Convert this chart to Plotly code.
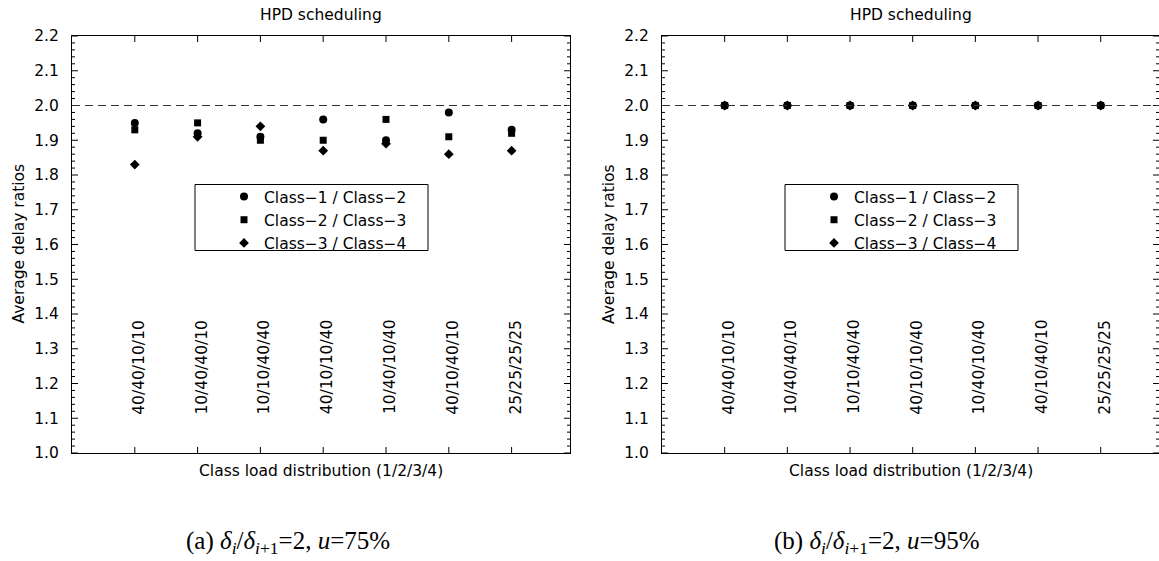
import plotly.graph_objects as go

# ---------------- data ----------------
categories = ["40/40/10/10", "10/40/40/10", "10/10/40/40", "40/10/10/40",
              "10/40/10/40", "40/10/40/10", "25/25/25/25"]
cat_pos = [1, 2, 3, 4, 5, 6, 7]

series_names = ["Class\u22121 / Class\u22122", "Class\u22122 / Class\u22123", "Class\u22123 / Class\u22124"]

# (a) u = 75%
a_c12 = [1.95, 1.92, 1.91, 1.96, 1.90, 1.98, 1.93]
a_c23 = [1.93, 1.95, 1.90, 1.90, 1.96, 1.91, 1.92]
a_c34 = [1.83, 1.91, 1.94, 1.87, 1.89, 1.86, 1.87]

# (b) u = 95%
b_c12 = [2.00, 2.00, 2.00, 2.00, 2.00, 2.00, 2.00]
b_c23 = [2.00, 2.00, 2.00, 2.00, 2.00, 2.00, 2.00]
b_c34 = [2.00, 2.00, 2.00, 2.00, 2.00, 2.00, 2.00]

target_ratio = 2.0
y_ticks = [1.0, 1.1, 1.2, 1.3, 1.4, 1.5, 1.6, 1.7, 1.8, 1.9, 2.0, 2.1, 2.2]
minor_per_major = 5
label_base = 1.105

titles = ["HPD scheduling", "HPD scheduling"]
captions = ["(a) <i>\u03b4<sub>i</sub></i>/<i>\u03b4<sub>i</sub></i><sub>+1</sub>=2, <i>u</i>=75%",
            "(b) <i>\u03b4<sub>i</sub></i>/<i>\u03b4<sub>i</sub></i><sub>+1</sub>=2, <i>u</i>=95%"]
x_title = "Class load distribution (1/2/3/4)"
y_title = "Average delay ratios"

# ---------------- layout constants ----------------
W, H = 1159, 561
TOP, BOT = 36, 453          # plot area in pixels
FONT = "DejaVu Sans"
FS = 15.5
dom1 = [72 / W, 570 / W]
dom2 = [662 / W, 1.0]
PLOT_W = 498.0
PLOT_H = BOT - TOP
MAJ, MIN = 6, 3             # tick lengths (px)
symbols = ["circle", "square", "diamond"]
sizes = [8, 7, 7.5]


def py(pix):
    """pixel row -> paper y (paper spans plot area vertically)"""
    return (BOT - pix) / (BOT - TOP)


fig = go.Figure()

panels = [
    (dict(xaxis="x", yaxis="y", legend="legend"), [a_c12, a_c23, a_c34]),
    (dict(xaxis="x2", yaxis="y2", legend="legend2"), [b_c12, b_c23, b_c34]),
]
for p, (refs, data) in enumerate(panels):
    for k, (name, vals) in enumerate(zip(series_names, data)):
        fig.add_trace(go.Scatter(
            x=cat_pos, y=vals, mode="markers", name=name,
            marker=dict(symbol=symbols[k], size=sizes[k], color="black",
                        line=dict(width=0)),
            legendgroup=f"g{p}{k}",
            xaxis=refs["xaxis"], yaxis=refs["yaxis"], legend=refs["legend"],
            showlegend=True,
        ))

axis_common_x = dict(range=[0, 7.93], tickvals=cat_pos, showticklabels=False,
                     ticks="", showline=True, linecolor="black", linewidth=1,
                     mirror=True, showgrid=False, zeroline=False)
axis_common_y = dict(range=[y_ticks[0], y_ticks[-1]], tickvals=y_ticks,
                     ticktext=[f"{v:.1f}" for v in y_ticks], ticks="",
                     showline=True, linecolor="black", linewidth=1, mirror=True,
                     showgrid=False, zeroline=False, ticklabelstandoff=9,
                     tickfont=dict(family=FONT, size=FS, color="black"))

tick_line = dict(color="black", width=1)
annotations = []
shapes = []
for p, (xa, ya, dom) in enumerate([("x", "y", dom1), ("x2", "y2", dom2)]):
    cx = (dom[0] + (570 / W if p == 0 else 1160 / W)) / 2
    # ---- tick marks (inside, on all four sides) ----
    for xi in cat_pos:
        shapes.append(dict(type="line", xref=xa, yref=f"{ya} domain", x0=xi, x1=xi,
                           y0=0, y1=MAJ / PLOT_H, line=tick_line, layer="above"))
        shapes.append(dict(type="line", xref=xa, yref=f"{ya} domain", x0=xi, x1=xi,
                           y0=1, y1=1 - MAJ / PLOT_H, line=tick_line, layer="above"))
    step = (y_ticks[1] - y_ticks[0]) / minor_per_major
    for i, yv in enumerate(y_ticks):
        for s in range(minor_per_major if i < len(y_ticks) - 1 else 1):
            v = yv + s * step
            ln = MAJ if s == 0 else MIN
            shapes.append(dict(type="line", xref=f"{xa} domain", yref=ya, x0=0,
                               x1=ln / PLOT_W, y0=v, y1=v, line=tick_line, layer="above"))
            shapes.append(dict(type="line", xref=f"{xa} domain", yref=ya, x0=1,
                               x1=1 - ln / PLOT_W, y0=v, y1=v, line=tick_line, layer="above"))
    # category labels inside plot
    for xi, lab in zip(cat_pos, categories):
        annotations.append(dict(x=xi, y=label_base, xref=xa, yref=ya, text=lab,
                                textangle=-90, showarrow=False, xanchor="center",
                                yanchor="bottom", xshift=4,
                                font=dict(family=FONT, size=FS, color="black")))
    # title
    annotations.append(dict(x=cx, y=py(15), xref="paper", yref="paper",
                            text=titles[p], showarrow=False, xanchor="center",
                            yanchor="middle",
                            font=dict(family=FONT, size=FS, color="black")))
    # x title
    annotations.append(dict(x=cx, y=py(471), xref="paper", yref="paper",
                            text=x_title, showarrow=False, xanchor="center",
                            yanchor="middle",
                            font=dict(family=FONT, size=FS, color="black")))
    # y title
    annotations.append(dict(x=(18.5 if p == 0 else 609) / W, y=py(244),
                            xref="paper", yref="paper", text=y_title,
                            textangle=-90, showarrow=False, xanchor="center",
                            yanchor="middle",
                            font=dict(family=FONT, size=FS, color="black")))
    # caption
    annotations.append(dict(x=(288 if p == 0 else 877) / W, y=py(542),
                            xref="paper", yref="paper", text=captions[p],
                            showarrow=False, xanchor="center", yanchor="middle",
                            font=dict(family="Liberation Serif", size=25, color="black")))
    # reference line
    shapes.append(dict(type="line", xref=f"{xa} domain", yref=ya, x0=0, x1=1,
                       y0=target_ratio, y1=target_ratio,
                       line=dict(color="#333333", width=1, dash="8px,5px")))
    # legend box
    lx0 = 195 if p == 0 else 785
    shapes.append(dict(type="rect", xref="paper", yref="paper",
                       x0=lx0 / W, x1=(lx0 + 233) / W,
                       y0=py(250.5), y1=py(184.5),
                       line=dict(color="black", width=1), fillcolor="rgba(0,0,0,0)"))

legend_common = dict(bgcolor="rgba(0,0,0,0)", borderwidth=0, tracegroupgap=0,
                     xanchor="left", yanchor="top", itemsizing="trace",
                     font=dict(family=FONT, size=FS, color="black"))

fig.update_layout(
    width=W, height=H,
    margin=dict(l=0, r=0, t=TOP, b=H - BOT),
    paper_bgcolor="white", plot_bgcolor="white",
    xaxis=dict(domain=dom1, anchor="y", **axis_common_x),
    yaxis=dict(anchor="x", **axis_common_y),
    xaxis2=dict(domain=dom2, anchor="y2", **axis_common_x),
    yaxis2=dict(anchor="x2", **axis_common_y),
    legend=dict(x=224 / W, y=py(180), **legend_common),
    legend2=dict(x=814 / W, y=py(180), **legend_common),
    annotations=annotations,
    shapes=shapes,
    showlegend=True,
)

fig.write_html("out.html")
